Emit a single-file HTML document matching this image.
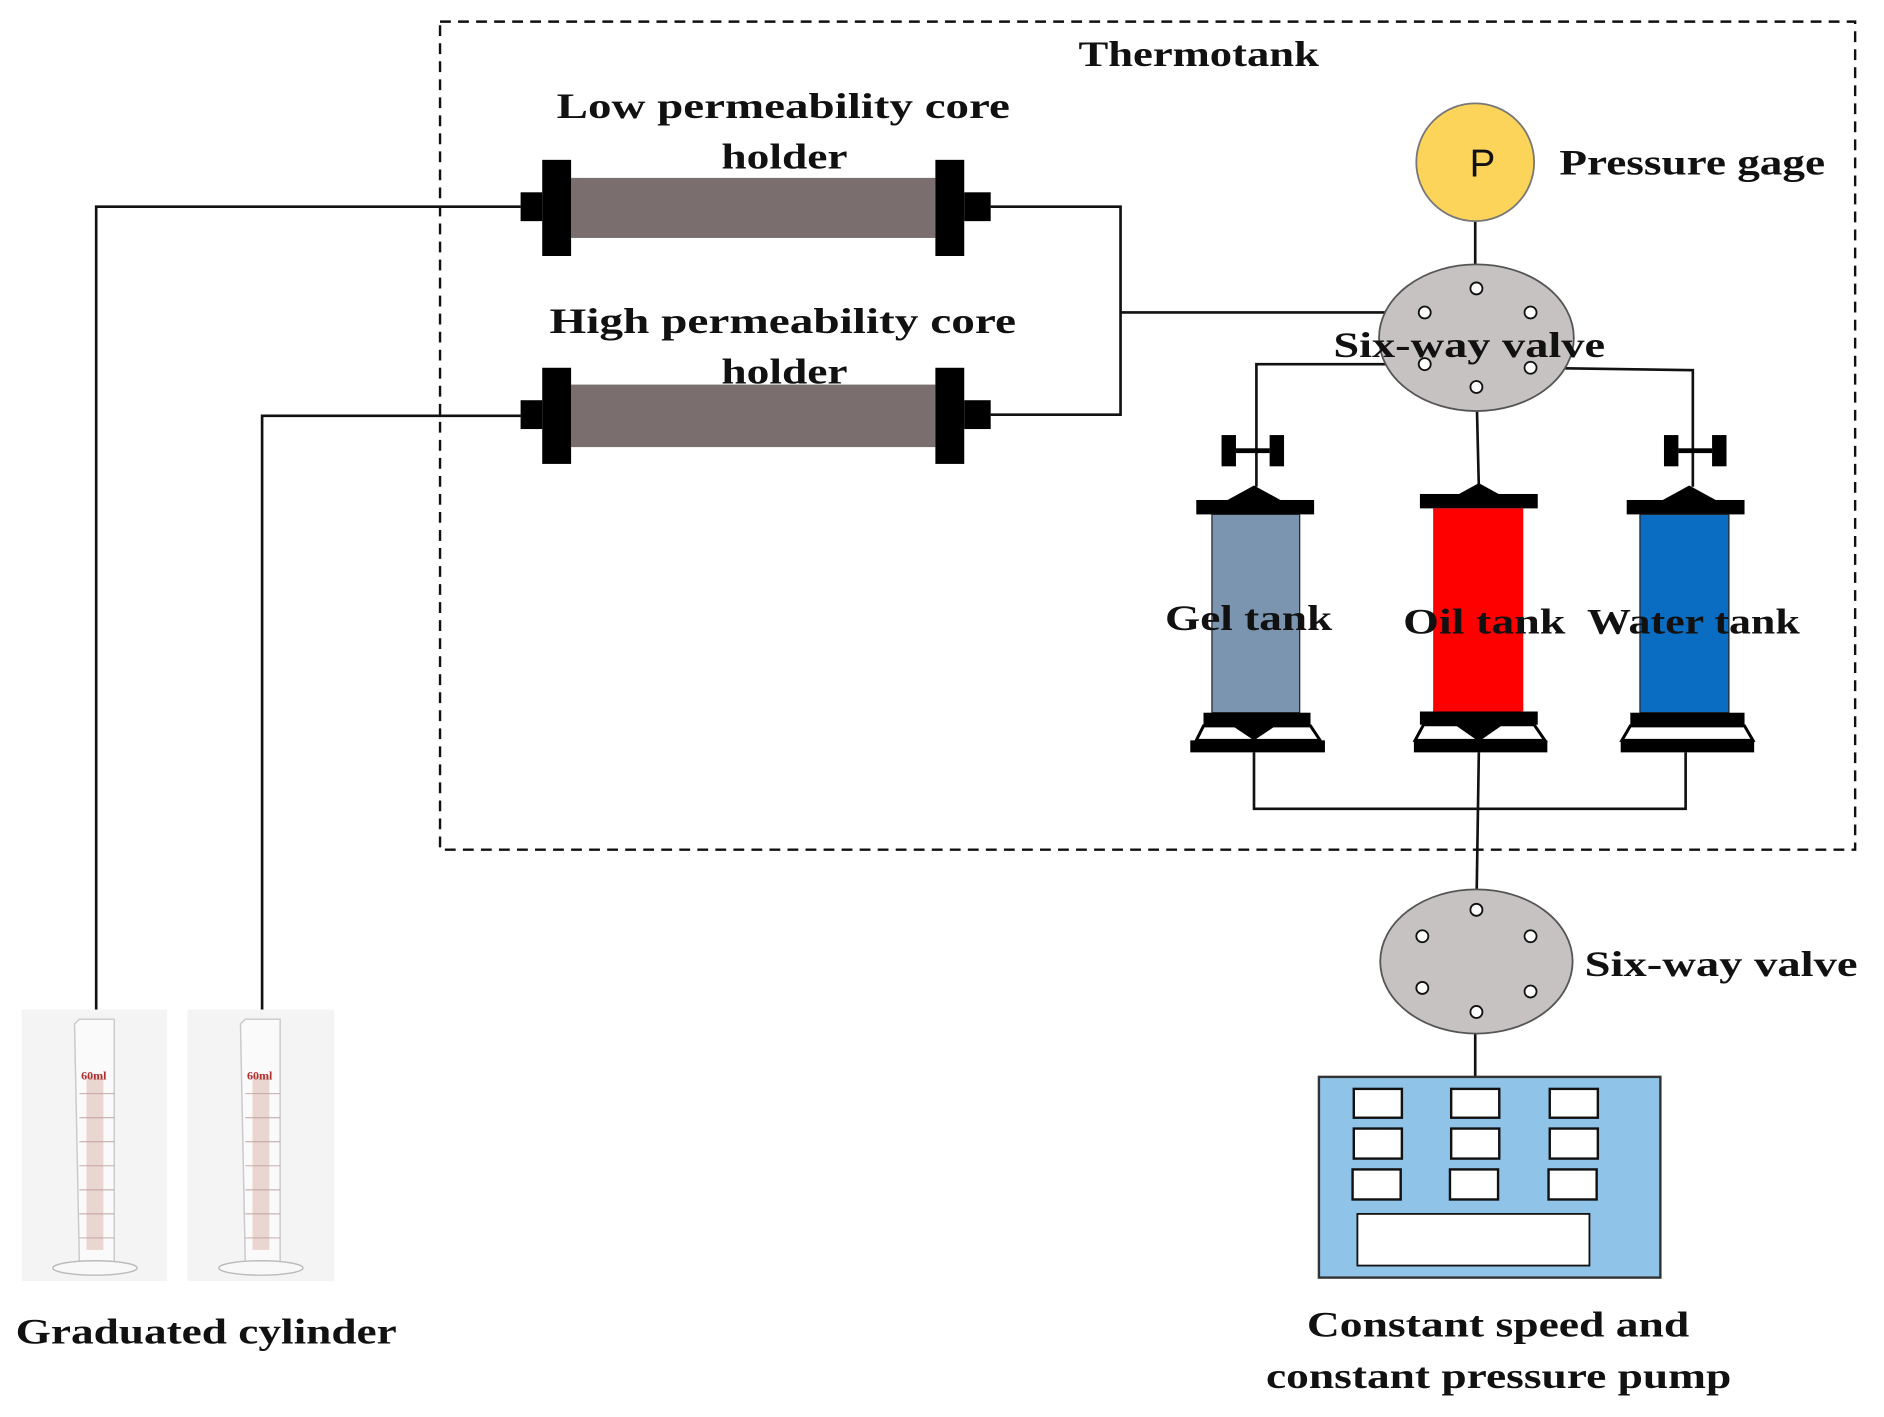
<!DOCTYPE html>
<html><head><meta charset="utf-8"><style>
html,body{margin:0;padding:0;background:#fff;}
svg{display:block;}
text{font-family:"Liberation Serif",serif;font-weight:bold;fill:#111;}
</style></head><body>
<svg width="1884" height="1417" viewBox="0 0 1567 1179" preserveAspectRatio="none" xmlns="http://www.w3.org/2000/svg">
<rect x="0" y="0" width="1567" height="1179" fill="#fff"/>
<rect x="366" y="18" width="1177" height="689" fill="none" stroke="#111" stroke-width="2" stroke-dasharray="9,6"/>
<text x="897" y="55" font-size="30" textLength="200" lengthAdjust="spacingAndGlyphs">Thermotank</text>

<g stroke="#111" stroke-width="2.2" fill="none">
<polyline points="433,172 80,172 80,840"/>
<polyline points="433,346 218,346 218,840"/>
<polyline points="824,172 932,172 932,345 824,345"/>
<polyline points="932,260 1185,260"/>
<line x1="1227" y1="184" x2="1227" y2="240"/>
<polyline points="1185,303 1045,303 1045,405"/>
<polyline points="1273,306 1408,308 1408,405"/>
<line x1="1228" y1="322" x2="1230" y2="405"/>
<polyline points="1043,626 1043,673 1402,673 1402,626"/>
<line x1="1230" y1="626" x2="1228" y2="757"/>
<line x1="1227" y1="842" x2="1227" y2="896"/>
</g>

<text x="463" y="98" font-size="30" textLength="377" lengthAdjust="spacingAndGlyphs">Low permeability  core</text>
<text x="600" y="140" font-size="30" textLength="105" lengthAdjust="spacingAndGlyphs">holder</text>
<rect x="475" y="148" width="303" height="50" fill="#7a6e6e"/>
<rect x="451" y="133" width="24" height="80" fill="#000"/>
<rect x="433" y="160" width="18" height="24" fill="#000"/>
<rect x="778" y="133" width="24" height="80" fill="#000"/>
<rect x="802" y="160" width="22" height="24" fill="#000"/>

<text x="457" y="277" font-size="30" textLength="388" lengthAdjust="spacingAndGlyphs">High permeability  core</text>
<rect x="475" y="320" width="303" height="52" fill="#7a6e6e"/>
<text x="600" y="319" font-size="30" textLength="105" lengthAdjust="spacingAndGlyphs">holder</text>
<rect x="451" y="306" width="24" height="80" fill="#000"/>
<rect x="433" y="333" width="18" height="24" fill="#000"/>
<rect x="778" y="306" width="24" height="80" fill="#000"/>
<rect x="802" y="333" width="22" height="24" fill="#000"/>

<circle cx="1227" cy="135" r="49" fill="#fdd45a" stroke="#777" stroke-width="1.5"/>
<text x="1233" y="147" font-size="32" text-anchor="middle" style="font-family:'Liberation Sans',sans-serif;font-weight:normal">P</text>
<text x="1297" y="145" font-size="30" textLength="221" lengthAdjust="spacingAndGlyphs">Pressure gage</text>

<ellipse cx="1228" cy="281" rx="81" ry="61" fill="#c6c2c2" stroke="#555" stroke-width="1.5"/>
<g fill="#fff" stroke="#111" stroke-width="1.5">
<circle cx="1228" cy="240" r="5"/><circle cx="1185" cy="260" r="5"/><circle cx="1273" cy="260" r="5"/>
<circle cx="1185" cy="303" r="5"/><circle cx="1273" cy="306" r="5"/><circle cx="1228" cy="322" r="5"/>
</g>
<text x="1109" y="297" font-size="30" textLength="226" lengthAdjust="spacingAndGlyphs">Six-way valve</text>

<g fill="#000">
<rect x="1016" y="362" width="12" height="26"/><rect x="1056" y="362" width="12" height="26"/><rect x="1028" y="373" width="28" height="4"/>
<rect x="1384" y="362" width="12" height="26"/><rect x="1424" y="362" width="12" height="26"/><rect x="1396" y="373" width="28" height="4"/>
</g>

<g>
<polygon points="1043,404 1021,416 1065,416" fill="#000"/>
<rect x="995" y="416" width="98" height="12" fill="#000"/>
<rect x="1008" y="428" width="73" height="165" fill="#7b95b0" stroke="#222" stroke-width="1"/>
<rect x="1001" y="593" width="89" height="11" fill="#000"/>
<polygon points="1001,604 1090,604 1098,616 995,616" fill="#fff" stroke="#000" stroke-width="2.5"/>
<polygon points="1025,604 1061,604 1043,616" fill="#000"/>
<rect x="990" y="616" width="112" height="10" fill="#000"/>
</g>
<g>
<polygon points="1230,402 1208,414 1252,414" fill="#000"/>
<rect x="1181" y="411" width="98" height="12" fill="#000"/>
<rect x="1192" y="423" width="75" height="170" fill="#ff0000"/>
<rect x="1181" y="592" width="98" height="11" fill="#000"/>
<polygon points="1184,603 1276,603 1285,616 1177,616" fill="#fff" stroke="#000" stroke-width="2.5"/>
<polygon points="1210,603 1250,603 1230,617" fill="#000"/>
<rect x="1176" y="616" width="111" height="10" fill="#000"/>
</g>
<g>
<polygon points="1405,404 1383,416 1427,416" fill="#000"/>
<rect x="1353" y="416" width="98" height="12" fill="#000"/>
<rect x="1364" y="428" width="74" height="165" fill="#0a6dc1" stroke="#222" stroke-width="1"/>
<rect x="1356" y="593" width="95" height="11" fill="#000"/>
<polygon points="1356,604 1451,604 1458,616 1349,616" fill="#fff" stroke="#000" stroke-width="2.5"/>
<rect x="1348" y="616" width="111" height="10" fill="#000"/>
</g>
<text x="969" y="524" font-size="30" textLength="139" lengthAdjust="spacingAndGlyphs">Gel tank</text>
<text x="1167" y="527" font-size="30" textLength="135" lengthAdjust="spacingAndGlyphs">Oil tank</text>
<text x="1320" y="527" font-size="30" textLength="177" lengthAdjust="spacingAndGlyphs">Water tank</text>

<ellipse cx="1228" cy="800" rx="80" ry="60" fill="#c6c2c2" stroke="#555" stroke-width="1.5"/>
<g fill="#fff" stroke="#111" stroke-width="1.5">
<circle cx="1228" cy="757" r="5"/><circle cx="1183" cy="779" r="5"/><circle cx="1273" cy="779" r="5"/>
<circle cx="1183" cy="822" r="5"/><circle cx="1273" cy="825" r="5"/><circle cx="1228" cy="842" r="5"/>
</g>
<text x="1318" y="812" font-size="30" textLength="227" lengthAdjust="spacingAndGlyphs">Six-way valve</text>

<rect x="1097" y="896" width="284" height="167" fill="#8fc3e8" stroke="#333" stroke-width="2"/>
<g fill="#fff" stroke="#111" stroke-width="2">
<rect x="1126" y="906" width="40" height="24"/><rect x="1207" y="906" width="40" height="24"/><rect x="1289" y="906" width="40" height="24"/>
<rect x="1126" y="939" width="40" height="25"/><rect x="1207" y="939" width="40" height="25"/><rect x="1289" y="939" width="40" height="25"/>
<rect x="1125" y="973" width="40" height="25"/><rect x="1206" y="973" width="40" height="25"/><rect x="1288" y="973" width="40" height="25"/>
<rect x="1129" y="1010" width="193" height="43" stroke-width="1.5"/>
</g>
<text x="1087" y="1112" font-size="30" textLength="318" lengthAdjust="spacingAndGlyphs">Constant speed and</text>
<text x="1053" y="1155" font-size="30" textLength="387" lengthAdjust="spacingAndGlyphs">constant pressure pump</text>

<g>
<rect x="18" y="840" width="121" height="226" fill="#f4f4f4"/>
<rect x="156" y="840" width="122" height="226" fill="#f4f4f4"/>
<g>
<path d="M62,852 L66,848 L95,848 L95,1050 L66,1050 Z" fill="#fafafa" stroke="#c9c9c9" stroke-width="1.2"/>
<rect x="72" y="895" width="14" height="145" fill="#ead6d0"/>
<text x="78" y="898" font-size="10" text-anchor="middle" style="fill:#b03030">60ml</text>
<g stroke="#c0a0a0" stroke-width="0.8">
<line x1="66" y1="910" x2="95" y2="910"/><line x1="66" y1="930" x2="95" y2="930"/><line x1="66" y1="950" x2="95" y2="950"/>
<line x1="66" y1="970" x2="95" y2="970"/><line x1="66" y1="990" x2="95" y2="990"/><line x1="66" y1="1010" x2="95" y2="1010"/><line x1="66" y1="1030" x2="95" y2="1030"/>
</g>
<ellipse cx="79" cy="1055" rx="35" ry="6" fill="#f8f8f8" stroke="#bbb" stroke-width="1.2"/>
</g>
<g transform="translate(138,0)">
<path d="M62,852 L66,848 L95,848 L95,1050 L66,1050 Z" fill="#fafafa" stroke="#c9c9c9" stroke-width="1.2"/>
<rect x="72" y="895" width="14" height="145" fill="#ead6d0"/>
<text x="78" y="898" font-size="10" text-anchor="middle" style="fill:#b03030">60ml</text>
<g stroke="#c0a0a0" stroke-width="0.8">
<line x1="66" y1="910" x2="95" y2="910"/><line x1="66" y1="930" x2="95" y2="930"/><line x1="66" y1="950" x2="95" y2="950"/>
<line x1="66" y1="970" x2="95" y2="970"/><line x1="66" y1="990" x2="95" y2="990"/><line x1="66" y1="1010" x2="95" y2="1010"/><line x1="66" y1="1030" x2="95" y2="1030"/>
</g>
<ellipse cx="79" cy="1055" rx="35" ry="6" fill="#f8f8f8" stroke="#bbb" stroke-width="1.2"/>
</g>
</g>
<text x="13" y="1118" font-size="30" textLength="317" lengthAdjust="spacingAndGlyphs">Graduated cylinder</text>
</svg>
</body></html>
